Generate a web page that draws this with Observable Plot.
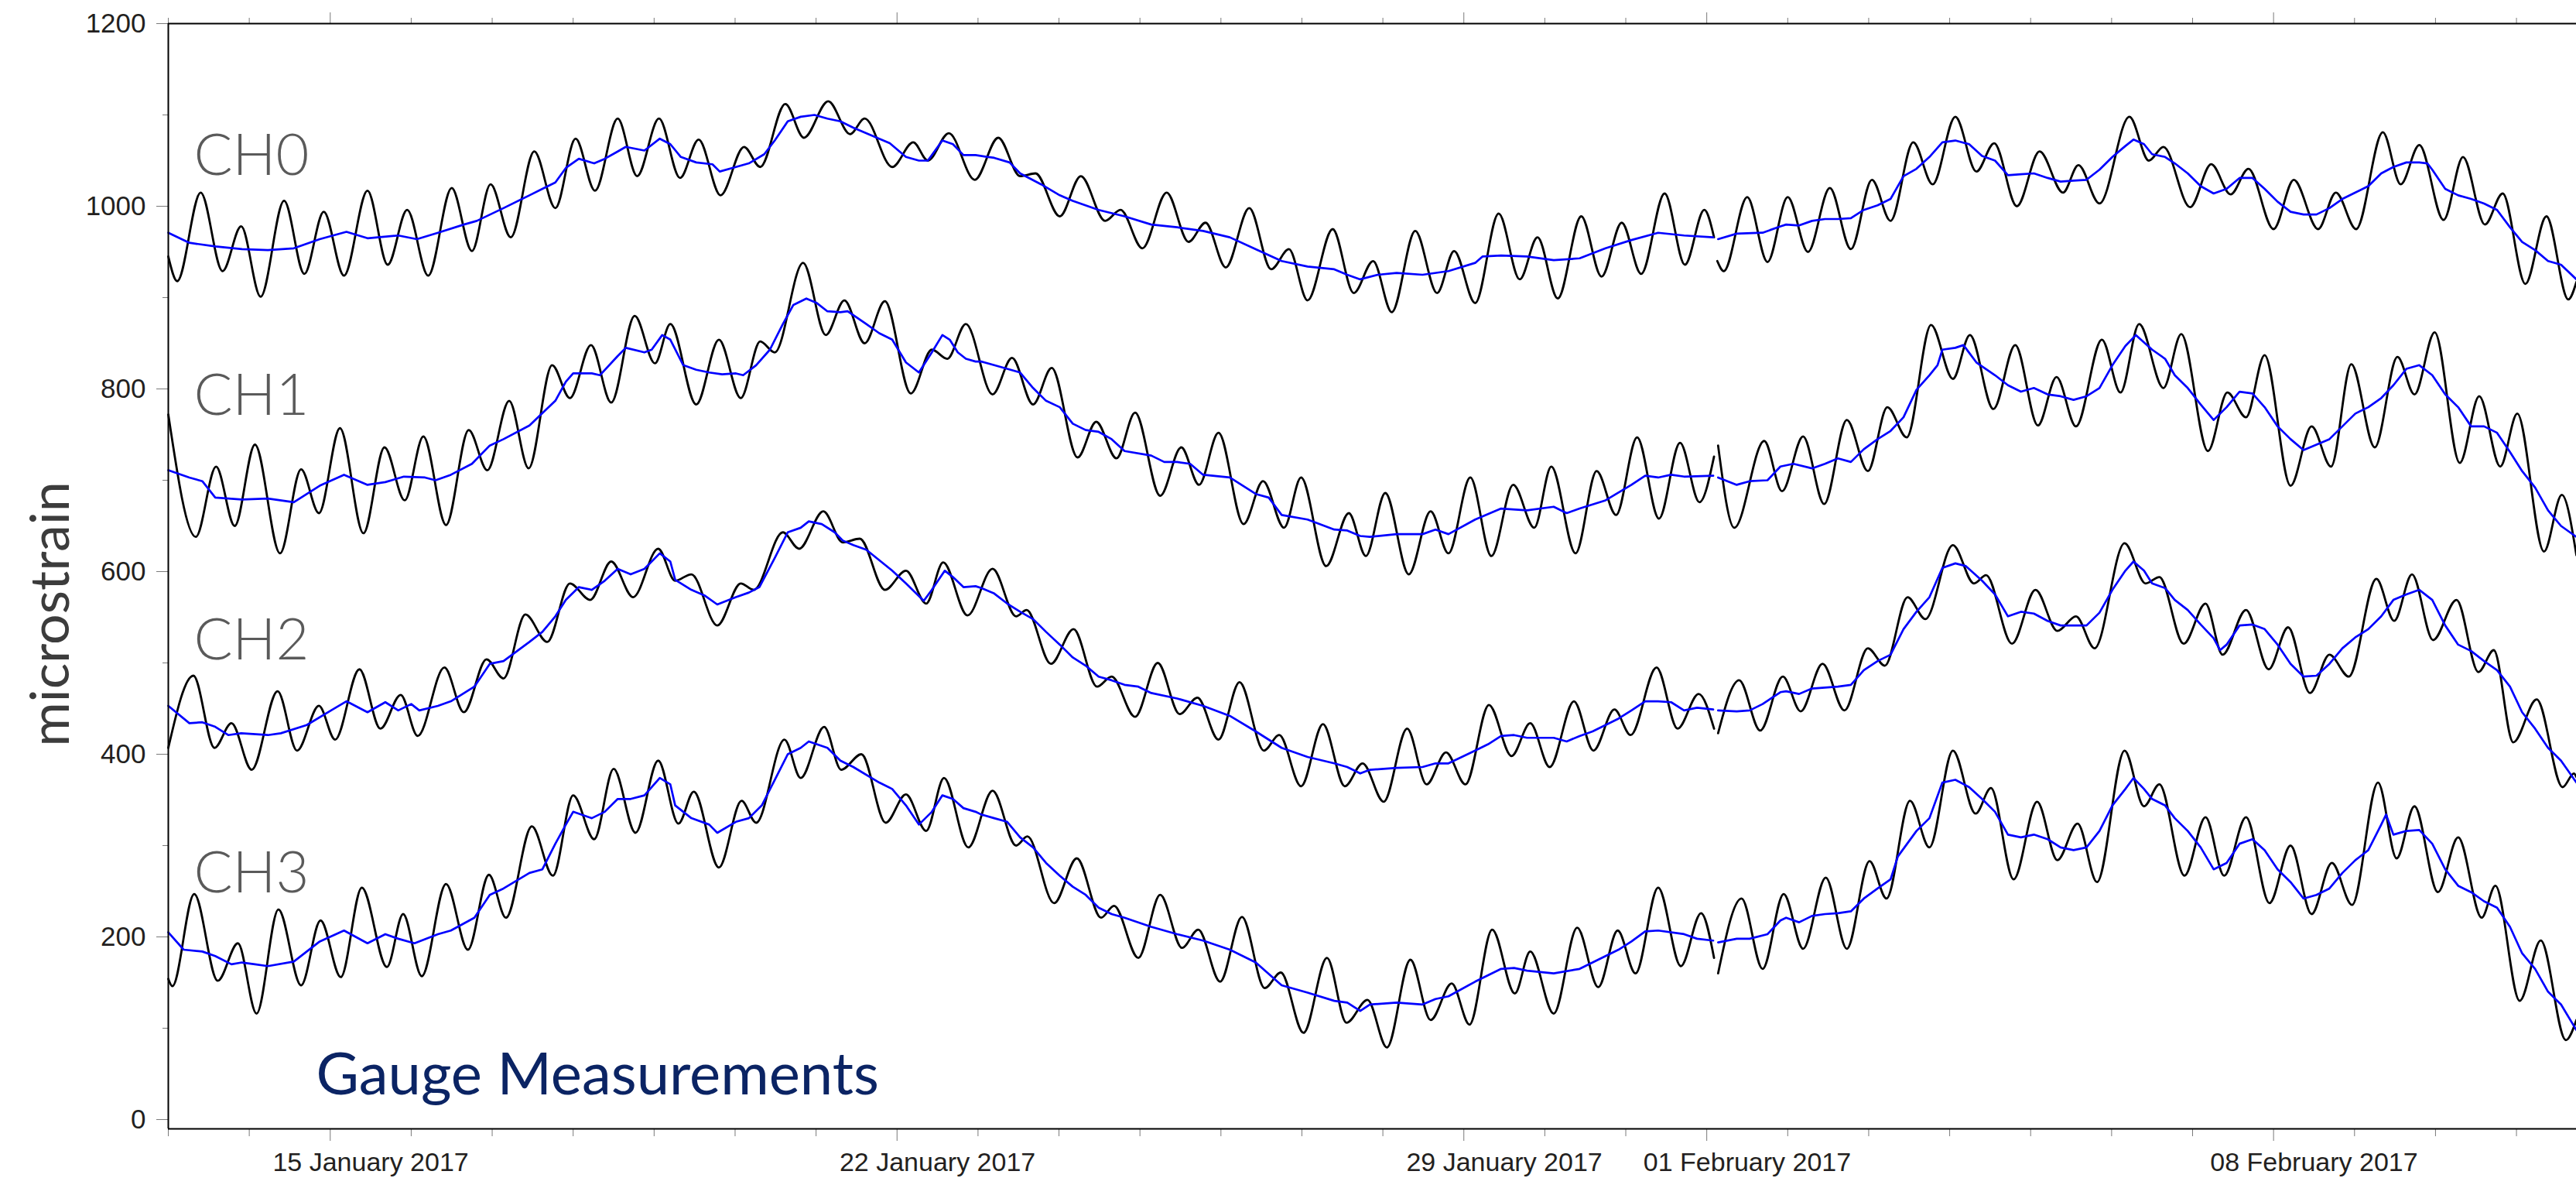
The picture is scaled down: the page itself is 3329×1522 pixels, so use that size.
<!DOCTYPE html>
<html>
<head>
<meta charset="utf-8">
<script src="https://cdn.jsdelivr.net/npm/d3@7"></script>
<script src="https://cdn.jsdelivr.net/npm/@observablehq/plot@0.6"></script>
<style>
html, body { margin: 0; padding: 0; background: #ffffff; }
#chart { width: 3329px; height: 1522px; }
</style>
</head>
<body>
<div id="chart"></div>
<script>
// ---------- data (days since 13 January 2017 00:00, microstrain) ----------
const channelNames = ["CH0", "CH1", "CH2", "CH3"];

const ch0RawT = [0,0.11,0.40,0.67,0.90,1.14,1.43,1.68,1.92,2.17,2.46,2.71,2.95,3.21,3.50,3.75,3.98,4.23,4.52,4.78,5.03,5.27,5.55,5.79,6.06,6.32,6.55,6.82,7.11,7.31,7.62,7.85,8.15,8.42,8.60,8.94,9.20,9.38,9.64,9.96,10.25,10.52,10.71,11.01,11.27,11.57,11.76,12.03,12.33,12.60,12.81,13.06,13.35,13.62,13.84,14.07,14.38,14.64,14.88,15.11,15.40,15.67,15.88,16.14,16.43,16.69,16.91,17.16,17.45,17.70,17.95,18.19,18.48,18.73,18.97,19.09,19.13,19.21,19.50,19.75,20.00,20.25,20.52,20.78,21.04,21.27,21.55,21.79,22.07,22.33,22.55,22.83,23.11,23.40,23.59,23.85,24.22,24.46,24.64,24.97,25.23,25.47,25.69,26.00,26.25,26.55,26.77,27.02,27.35,27.57,27.80,28.10,28.34,28.61,28.83,29.11,29.37,29.64,29.74];
const ch0RawV = [945,918,1015,929,978,901,1006,926,994,924,1017,936,996,924,1020,951,1024,966,1060,998,1074,1017,1096,1033,1096,1031,1073,1012,1065,1043,1112,1075,1115,1079,1096,1043,1070,1050,1080,1029,1075,1033,1036,989,1033,984,996,954,1015,961,982,933,998,931,953,897,975,905,940,884,973,905,951,894,992,920,966,899,989,923,982,926,1014,936,996,966,940,929,1010,939,1010,950,1020,953,1029,984,1070,1024,1098,1038,1069,1000,1060,1015,1045,1003,1098,1050,1065,999,1046,1013,1041,975,1029,975,1015,975,1081,1024,1067,985,1054,980,1014,915,989,898,917];
const ch0MeanT = [0,0.26,0.58,0.91,1.23,1.55,1.87,2.20,2.46,2.84,3.07,3.33,3.65,3.81,4.14,4.46,4.62,4.78,4.91,5.07,5.26,5.39,5.55,5.65,5.88,6.07,6.20,6.33,6.52,6.72,6.81,7.01,7.17,7.36,7.49,7.65,7.81,7.98,8.14,8.30,8.46,8.78,8.91,9.11,9.27,9.38,9.56,9.69,9.82,9.97,10.20,10.39,10.52,10.78,11.01,11.17,11.49,11.81,12.14,12.46,12.78,13.11,13.43,13.75,14.07,14.40,14.56,14.72,14.94,15.17,15.49,15.81,16.14,16.23,16.46,16.78,17.11,17.43,17.75,18.07,18.40,18.72,19.08,19.14,19.37,19.69,19.91,19.98,20.14,20.30,20.46,20.62,20.78,20.94,21.11,21.27,21.43,21.59,21.75,21.91,22.07,22.24,22.40,22.56,22.72,22.88,23.04,23.21,23.37,23.53,23.69,23.85,24.01,24.17,24.27,24.40,24.50,24.66,24.78,24.94,25.10,25.26,25.42,25.58,25.74,25.89,26.05,26.21,26.37,26.53,26.69,26.85,27.01,27.17,27.33,27.48,27.64,27.80,27.90,27.96,28.12,28.28,28.44,28.60,28.76,28.92,29.07,29.23,29.39,29.55,29.74];
const ch0MeanV = [971,960,956,953,952,954,964,972,965,968,964,971,980,984,998,1012,1019,1026,1042,1052,1047,1052,1060,1065,1061,1074,1068,1054,1048,1046,1038,1043,1047,1057,1072,1093,1098,1100,1096,1093,1086,1074,1069,1054,1050,1050,1072,1068,1056,1056,1053,1048,1036,1024,1012,1006,996,989,980,977,973,966,953,940,934,931,925,920,925,927,925,929,938,945,946,945,941,943,954,963,971,968,966,964,970,971,978,980,979,984,986,986,987,996,1001,1008,1033,1041,1054,1070,1072,1068,1055,1050,1034,1035,1036,1031,1027,1028,1029,1040,1054,1066,1073,1068,1057,1054,1047,1036,1022,1014,1019,1031,1031,1019,1005,994,991,991,998,1008,1015,1022,1036,1043,1048,1048,1047,1040,1019,1012,1008,1003,996,977,961,952,940,936,920];

const ch1RawT = [0,0.34,0.59,0.82,1.07,1.38,1.64,1.86,2.12,2.41,2.67,2.92,3.15,3.43,3.71,3.94,4.21,4.45,4.74,4.96,5.22,5.47,5.76,6.01,6.20,6.52,6.80,7.07,7.31,7.49,7.84,8.12,8.35,8.60,8.85,9.17,9.43,9.62,9.85,10.18,10.42,10.68,10.91,11.23,11.46,11.71,11.94,12.25,12.51,12.73,12.97,13.28,13.52,13.78,13.99,14.30,14.58,14.79,15.03,15.32,15.59,15.81,16.08,16.34,16.61,16.87,17.08,17.38,17.64,17.88,18.14,18.41,18.67,18.91,19.09,19.14,19.34,19.71,19.93,20.19,20.45,20.73,20.99,21.23,21.47,21.77,22.04,22.25,22.54,22.81,23.09,23.32,23.56,23.88,24.11,24.34,24.64,24.86,25.19,25.43,25.66,25.89,26.21,26.47,26.71,26.96,27.25,27.53,27.74,27.99,28.30,28.54,28.80,29.01,29.34,29.56,29.74];
const ch1RawV = [772,638,715,650,739,620,712,664,757,642,736,678,748,651,755,711,787,713,826,790,848,785,880,828,871,783,854,790,852,840,938,859,897,850,896,795,843,833,871,794,834,783,823,725,764,724,774,683,736,695,752,652,699,648,703,606,664,617,686,597,666,620,703,617,695,648,715,620,710,662,747,658,741,676,726,738,648,743,688,748,674,766,710,780,747,870,811,859,778,848,760,813,759,854,796,871,801,860,732,796,769,837,694,759,715,827,736,835,794,862,719,792,715,773,622,684,618];
const ch1MeanT = [0,0.26,0.42,0.58,0.91,1.23,1.55,1.87,2.17,2.46,2.68,2.91,3.17,3.30,3.49,3.75,3.97,4.14,4.46,4.78,4.91,5.00,5.23,5.33,5.55,5.65,5.88,5.97,6.10,6.20,6.36,6.52,6.68,6.84,7.01,7.10,7.26,7.43,7.59,7.72,7.88,8.01,8.14,8.30,8.39,8.62,8.78,8.94,9.11,9.27,9.43,9.56,9.65,9.75,9.85,9.97,10.04,10.20,10.36,10.52,10.68,10.84,11.01,11.17,11.33,11.49,11.65,11.81,12.14,12.30,12.46,12.62,12.78,13.11,13.43,13.59,13.75,14.07,14.40,14.56,14.72,14.84,15.17,15.49,15.65,15.81,16.14,16.46,16.78,17.11,17.27,17.43,17.75,18.07,18.24,18.40,18.56,18.72,19.08,19.14,19.37,19.53,19.75,19.91,20.07,20.30,20.46,20.62,20.78,20.94,21.11,21.27,21.43,21.59,21.75,21.85,21.91,22.07,22.17,22.33,22.56,22.72,22.88,23.04,23.21,23.37,23.53,23.69,23.85,24.01,24.17,24.30,24.50,24.66,24.78,24.94,25.10,25.26,25.42,25.58,25.74,25.89,26.05,26.21,26.37,26.53,26.69,26.85,27.01,27.17,27.33,27.48,27.64,27.80,27.96,28.12,28.28,28.44,28.60,28.76,28.92,29.07,29.23,29.39,29.55,29.74];
const ch1MeanV = [711,703,699,681,679,680,676,694,706,695,698,704,703,700,706,718,738,745,760,787,808,817,817,815,836,845,840,843,859,854,826,821,818,816,817,815,826,843,871,892,899,894,885,884,885,871,861,854,829,818,840,859,854,840,833,830,830,826,822,818,801,787,780,762,755,753,745,732,727,720,720,718,706,703,685,681,662,657,646,645,639,638,641,641,646,641,657,669,667,671,664,669,678,695,705,703,706,704,705,703,695,699,700,715,718,713,718,724,720,734,745,754,769,799,815,826,843,845,848,829,815,804,797,801,794,792,788,792,801,826,847,859,843,833,815,801,783,766,780,797,795,780,759,745,733,739,745,759,773,780,790,804,822,826,815,794,780,759,759,752,731,710,692,667,650,638];

const ch2RawT = [0,0.31,0.57,0.78,1.03,1.35,1.59,1.86,2.06,2.36,2.62,2.87,3.08,3.41,3.65,3.93,4.14,4.41,4.68,4.96,5.21,5.47,5.74,6.05,6.26,6.46,6.78,7.07,7.23,7.59,7.79,8.09,8.33,8.54,8.85,9.11,9.36,9.57,9.87,10.18,10.47,10.60,10.90,11.18,11.47,11.65,11.94,12.22,12.49,12.71,12.97,13.23,13.53,13.72,13.99,14.26,14.53,14.75,15.01,15.30,15.54,15.78,16.02,16.31,16.59,16.82,17.06,17.36,17.60,17.86,18.06,18.38,18.64,18.90,19.09,19.14,19.40,19.66,19.94,20.16,20.43,20.70,20.99,21.20,21.48,21.70,22.04,22.30,22.45,22.77,23.06,23.33,23.56,23.79,24.16,24.42,24.59,24.89,25.16,25.37,25.66,25.94,26.18,26.45,26.69,26.93,27.27,27.49,27.71,27.97,28.26,28.53,28.72,28.96,29.25,29.57,29.71,29.74];
const ch2RawV = [407,486,407,434,383,469,404,453,416,493,428,465,420,495,446,504,483,553,523,587,569,611,572,625,590,597,541,587,580,643,625,666,632,636,580,601,565,610,552,603,551,558,499,537,474,485,441,500,444,462,416,479,404,421,365,433,365,390,348,428,367,402,367,454,398,434,386,458,404,449,421,495,428,466,428,423,481,426,485,447,499,448,516,497,572,548,629,587,596,521,580,535,551,516,631,587,594,521,565,509,558,493,539,467,509,485,592,546,597,525,569,490,514,413,460,364,379,375];
const ch2MeanT = [0,0.26,0.42,0.58,0.74,0.90,1.23,1.39,1.71,2.03,2.20,2.46,2.68,2.84,3.00,3.10,3.33,3.49,3.78,3.97,4.14,4.46,4.62,4.78,4.91,5.07,5.23,5.39,5.55,5.71,5.88,6.07,6.20,6.26,6.46,6.62,6.78,7.01,7.17,7.30,7.49,7.65,7.81,7.91,8.07,8.23,8.33,8.46,8.62,8.94,9.11,9.33,9.43,9.59,9.69,9.82,9.97,10.04,10.20,10.36,10.52,10.68,10.84,11.01,11.17,11.33,11.49,11.65,11.81,11.98,12.14,12.46,12.78,13.11,13.43,13.75,14.07,14.40,14.56,14.72,14.84,15.17,15.49,15.65,15.81,16.14,16.30,16.46,16.62,16.78,17.11,17.27,17.43,17.59,17.75,17.91,18.07,18.24,18.40,18.56,18.72,18.88,19.08,19.14,19.37,19.53,19.69,19.91,19.98,20.14,20.30,20.46,20.62,20.78,20.94,21.11,21.27,21.43,21.59,21.75,21.91,22.07,22.20,22.40,22.56,22.72,22.88,23.04,23.21,23.37,23.53,23.69,23.85,24.01,24.17,24.27,24.40,24.50,24.66,24.78,24.94,25.10,25.26,25.34,25.42,25.58,25.74,25.89,26.05,26.21,26.37,26.53,26.69,26.85,27.01,27.17,27.33,27.48,27.64,27.80,27.96,28.12,28.28,28.44,28.60,28.76,28.92,29.07,29.23,29.39,29.55,29.74];
const ch2MeanV = [453,434,435,430,421,423,421,423,432,449,458,446,457,448,455,448,453,458,474,499,502,523,534,551,569,583,580,590,603,597,603,620,611,591,580,574,564,572,577,583,615,643,648,655,652,643,634,629,624,601,587,568,580,601,594,583,584,582,576,565,556,548,534,520,506,497,485,481,476,474,467,461,453,442,425,407,397,390,386,379,383,385,386,390,390,404,411,420,421,418,418,414,420,425,432,439,448,458,458,457,448,451,449,448,447,448,455,468,469,466,472,473,474,476,492,502,509,537,556,572,604,609,606,590,575,551,556,554,546,541,541,541,555,580,601,611,601,587,582,569,558,542,527,514,520,541,542,537,520,499,485,486,499,516,528,537,551,569,575,580,569,541,520,513,502,492,474,446,428,407,393,369];

const ch3RawT = [0,0.05,0.32,0.61,0.86,1.09,1.36,1.64,1.88,2.13,2.39,2.70,2.90,3.13,3.43,3.70,3.96,4.17,4.49,4.75,5.00,5.26,5.50,5.77,6.05,6.30,6.49,6.80,7.08,7.26,7.61,7.81,8.10,8.31,8.56,8.86,9.11,9.36,9.58,9.88,10.18,10.47,10.61,10.94,11.22,11.52,11.68,11.98,12.25,12.52,12.72,12.99,13.26,13.54,13.74,14.02,14.31,14.55,14.81,15.05,15.34,15.59,15.85,16.07,16.35,16.63,16.82,17.11,17.40,17.66,17.90,18.12,18.40,18.68,18.93,19.09,19.14,19.43,19.69,19.95,20.19,20.47,20.73,21.01,21.22,21.51,21.75,22.04,22.32,22.51,22.79,23.08,23.33,23.58,23.82,24.16,24.40,24.59,24.90,25.16,25.39,25.66,25.95,26.21,26.47,26.72,26.97,27.29,27.52,27.74,28.03,28.28,28.57,28.74,29.04,29.30,29.61,29.74];
const ch3RawV = [154,146,247,152,193,116,230,147,218,156,254,167,225,157,258,186,268,221,321,267,355,307,384,314,393,324,359,276,349,325,416,374,430,383,400,325,356,316,374,298,360,300,310,237,286,221,234,177,246,188,208,151,222,144,161,95,177,106,131,79,175,109,149,104,208,138,184,116,210,145,207,160,254,168,226,177,160,242,165,247,187,265,187,283,242,349,298,404,335,363,263,348,284,324,260,404,343,367,267,331,267,331,237,300,225,281,235,369,286,343,249,309,221,256,130,196,87,109];
const ch3MeanT = [0,0.19,0.42,0.58,0.78,0.91,1.07,1.23,1.55,1.87,2.17,2.46,2.68,2.84,3.04,3.33,3.49,3.78,3.97,4.14,4.46,4.62,4.78,4.91,5.00,5.23,5.39,5.55,5.71,5.88,6.07,6.20,6.26,6.46,6.68,6.78,7.01,7.17,7.33,7.49,7.65,7.81,7.91,8.14,8.30,8.46,8.78,8.94,9.11,9.27,9.43,9.56,9.69,9.82,9.97,10.04,10.20,10.36,10.52,10.68,10.84,11.01,11.17,11.33,11.49,11.65,11.81,12.14,12.46,12.78,13.11,13.43,13.75,14.07,14.40,14.56,14.72,14.84,15.17,15.49,15.65,15.81,16.14,16.30,16.46,16.62,16.78,17.11,17.43,17.59,17.75,17.91,18.07,18.24,18.40,18.72,18.88,19.08,19.14,19.37,19.53,19.75,19.91,19.98,20.14,20.30,20.46,20.62,20.78,20.94,21.11,21.27,21.36,21.59,21.75,21.91,22.07,22.24,22.40,22.56,22.72,22.88,23.04,23.21,23.37,23.53,23.69,23.85,24.01,24.17,24.27,24.40,24.50,24.66,24.78,24.94,25.10,25.26,25.42,25.58,25.74,25.89,26.05,26.21,26.37,26.53,26.69,26.85,27.01,27.17,27.33,27.39,27.48,27.64,27.80,27.96,28.12,28.28,28.44,28.60,28.76,28.92,29.07,29.23,29.39,29.55,29.74];
const ch3MeanV = [205,186,184,179,170,172,170,168,173,195,207,193,203,198,193,203,207,221,246,253,270,274,302,323,337,330,337,351,351,355,374,367,344,330,323,314,326,330,344,372,400,407,414,407,393,386,369,362,344,323,337,355,351,341,337,334,330,326,309,298,281,267,255,246,232,225,221,211,203,196,186,172,147,139,130,128,119,126,128,126,132,135,151,158,165,166,163,160,165,172,179,186,195,206,207,203,198,196,194,198,198,203,218,221,216,223,225,226,228,242,253,263,288,316,330,369,372,364,351,337,312,309,312,307,298,295,298,316,344,362,374,362,351,344,330,316,298,274,281,302,307,295,274,260,242,246,253,270,284,295,323,334,312,316,317,302,274,256,249,239,232,211,182,165,140,126,98];

// axis ticks and labels
const yLabelTicks = [0, 200, 400, 600, 800, 1000, 1200];
const yMinorTicks = [100, 300, 500, 700, 900, 1100];
const majorTickDays = [2, 9, 16, 19, 26];
const majorTickLabels = ["15 January 2017", "22 January 2017", "29 January 2017", "01 February 2017", "08 February 2017"];
const titleText = "Gauge Measurements";
const yAxisTitle = "microstrain";

// ---------- construction ----------
const START = Date.UTC(2017, 0, 13);
const DAY = 86400000;
const GAP_DAY = 19.11;      // recording break on 1 February
const X_END_DAY = 29.74;
const Y_MIN = -10.17, Y_MAX = 1200;
const toDate = d => new Date(START + d * DAY);

function series(ch, T, V) {
  const n = Math.min(T.length, V.length);
  const out = [];
  for (let i = 0; i < n; i++) out.push({ch, date: toDate(T[i]), v: V[i], seg: ch + (T[i] < GAP_DAY ? "a" : "b")});
  return out;
}
const black = [
  ...series("CH0", ch0RawT, ch0RawV), ...series("CH1", ch1RawT, ch1RawV),
  ...series("CH2", ch2RawT, ch2RawV), ...series("CH3", ch3RawT, ch3RawV)
];
const blue = [
  ...series("CH0", ch0MeanT, ch0MeanV), ...series("CH1", ch1MeanT, ch1MeanV),
  ...series("CH2", ch2MeanT, ch2MeanV), ...series("CH3", ch3MeanT, ch3MeanV)
];

const allDays = d3.range(0, Math.floor(X_END_DAY) + 1);
const minorDates = allDays.filter(d => !majorTickDays.includes(d)).map(toDate);
const majorDates = majorTickDays.map(toDate);
const labelDates = majorTickDays.map(d => toDate(d + 0.5));
const labelMap = new Map(labelDates.map((d, i) => [+d, majorTickLabels[i]]));

const sansNum = "'Liberation Sans', Arial, Helvetica, sans-serif";
const humanist = "Lato, 'Open Sans', 'Noto Sans', sans-serif";
const tickGray = "#7a7a7a";
const labelDy = [195, 505, 821, 1122];

const chLabelMarks = channelNames.map((c, i) => Plot.text([c], {
  frameAnchor: "top-left", dx: 33, dy: labelDy[i], text: d => d,
  textAnchor: "start", lineAnchor: "bottom",
  fontSize: 74, fontFamily: humanist, fontWeight: 300, fill: "#5a5a5a"
}));

const chart = Plot.plot({
  width: 3329,
  height: 1522,
  marginLeft: 217,
  marginTop: 30,
  marginRight: 0,
  marginBottom: 64,
  style: {fontFamily: sansNum, background: "#ffffff", overflow: "visible"},
  x: {type: "utc", domain: [toDate(0), toDate(X_END_DAY)], axis: null},
  y: {domain: [Y_MIN, Y_MAX], axis: null},
  marks: [
    Plot.line(black, {x: "date", y: "v", z: "seg", curve: "monotone-x", stroke: "#000000", strokeWidth: 2.8, strokeLinejoin: "round"}),
    Plot.line(blue, {x: "date", y: "v", z: "seg", stroke: "#0000ff", strokeWidth: 2.7, strokeLinejoin: "round"}),
    Plot.axisY({ticks: yLabelTicks, tickSize: 15, tickPadding: 14, tickFormat: d => String(d), fontSize: 35, stroke: tickGray, fill: "#231f20", label: null}),
    Plot.axisY({ticks: yMinorTicks, tickSize: 7, tickFormat: () => "", stroke: tickGray, label: null}),
    Plot.axisX({anchor: "bottom", ticks: minorDates, tickSize: 10, tickFormat: () => "", stroke: tickGray, label: null}),
    Plot.axisX({anchor: "bottom", ticks: majorDates, tickSize: 16, tickFormat: () => "", stroke: tickGray, label: null}),
    Plot.axisX({anchor: "top", ticks: minorDates, tickSize: 8, tickFormat: () => "", stroke: tickGray, label: null}),
    Plot.axisX({anchor: "top", ticks: majorDates, tickSize: 15, tickFormat: () => "", stroke: tickGray, label: null}),
    Plot.axisX({anchor: "bottom", ticks: labelDates, tickSize: 0, tickPadding: 30, tickFormat: d => labelMap.get(+d), fontSize: 34, stroke: "none", fill: "#231f20", label: null}),
    Plot.ruleX([toDate(0)], {stroke: "#000000", strokeWidth: 2}),
    Plot.ruleY([Y_MAX], {stroke: "#000000", strokeWidth: 2}),
    Plot.ruleY([Y_MIN], {stroke: "#000000", strokeWidth: 2}),
    ...chLabelMarks,
    Plot.text([titleText], {
      frameAnchor: "bottom-left", dx: 191, dy: -45, text: d => d,
      textAnchor: "start", lineAnchor: "bottom",
      fontSize: 76, fontFamily: humanist, fill: "#0b2464"
    }),
    Plot.text([yAxisTitle], {
      frameAnchor: "left", dx: -151, dy: 49, rotate: -90, text: d => d,
      textAnchor: "middle", lineAnchor: "middle",
      fontSize: 70, fontFamily: humanist, fill: "#3c3c3c"
    })
  ]
});

document.getElementById("chart").appendChild(chart);
</script>
</body>
</html>
